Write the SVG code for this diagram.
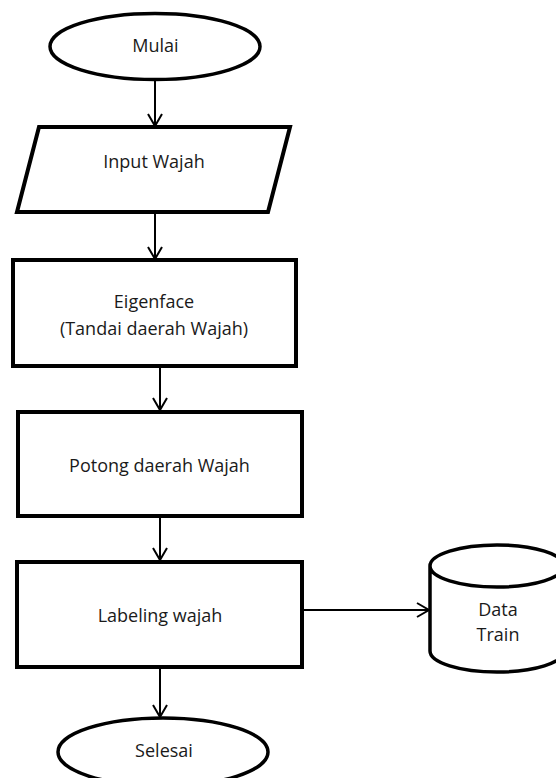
<svg xmlns="http://www.w3.org/2000/svg" width="556" height="778" viewBox="0 0 556 778">
<style>
.s{fill:#fff;stroke:#000;stroke-width:4;stroke-linejoin:miter}
.e{fill:#fff;stroke:#000;stroke-width:3.5}
.c{fill:none;stroke:#000;stroke-width:2}
.t{font-family:"Open Sans","Liberation Sans",sans-serif;font-size:18px;fill:#1a1a1a;text-anchor:middle}
</style>
<defs>
<marker id="arr" markerUnits="userSpaceOnUse" markerWidth="16" markerHeight="18" refX="13" refY="8" orient="auto">
<path d="M1,1 L13,8 L1,15" fill="none" stroke="#000" stroke-width="2"/>
</marker>
</defs>
<rect width="556" height="778" fill="#fff"/>
<g id="connectors">
<line class="c" x1="155" y1="80" x2="155" y2="126" marker-end="url(#arr)"/>
<line class="c" x1="155" y1="212" x2="155" y2="259" marker-end="url(#arr)"/>
<line class="c" x1="160" y1="366" x2="160" y2="410" marker-end="url(#arr)"/>
<line class="c" x1="160" y1="516" x2="160" y2="560" marker-end="url(#arr)"/>
<line class="c" x1="302" y1="610" x2="429" y2="610" marker-end="url(#arr)"/>
<line class="c" x1="160" y1="669" x2="160" y2="717" marker-end="url(#arr)"/>
</g>
<g id="mulai">
<ellipse class="e" cx="155" cy="46.5" rx="105" ry="33"/>
<text class="t" x="155.5" y="52">Mulai</text>
</g>
<g id="input-wajah">
<polygon class="s" points="39,127 290,127 268,212 17,212"/>
<text class="t" x="154" y="168">Input Wajah</text>
</g>
<g id="eigenface">
<rect class="s" x="13" y="260" width="283" height="106"/>
<text class="t" x="154" y="308">Eigenface</text>
<text class="t" x="154" y="335">(Tandai daerah Wajah)</text>
</g>
<g id="potong">
<rect class="s" x="18" y="412" width="284" height="104"/>
<text class="t" x="159.5" y="472">Potong daerah Wajah</text>
</g>
<g id="labeling">
<rect class="s" x="17" y="562" width="285" height="105"/>
<text class="t" x="160" y="622">Labeling wajah</text>
</g>
<g id="data-train">
<path class="e" d="M430,566 L430,651 A67,21 0 0 0 564,651 L564,566 A67,21 0 0 0 430,566 A67,21 0 0 0 564,566"/>
<text class="t" x="498" y="616">Data</text>
<text class="t" x="498" y="641">Train</text>
</g>
<g id="selesai">
<ellipse class="e" cx="163" cy="752" rx="105" ry="34"/>
<text class="t" x="164" y="757">Selesai</text>
</g>
</svg>
